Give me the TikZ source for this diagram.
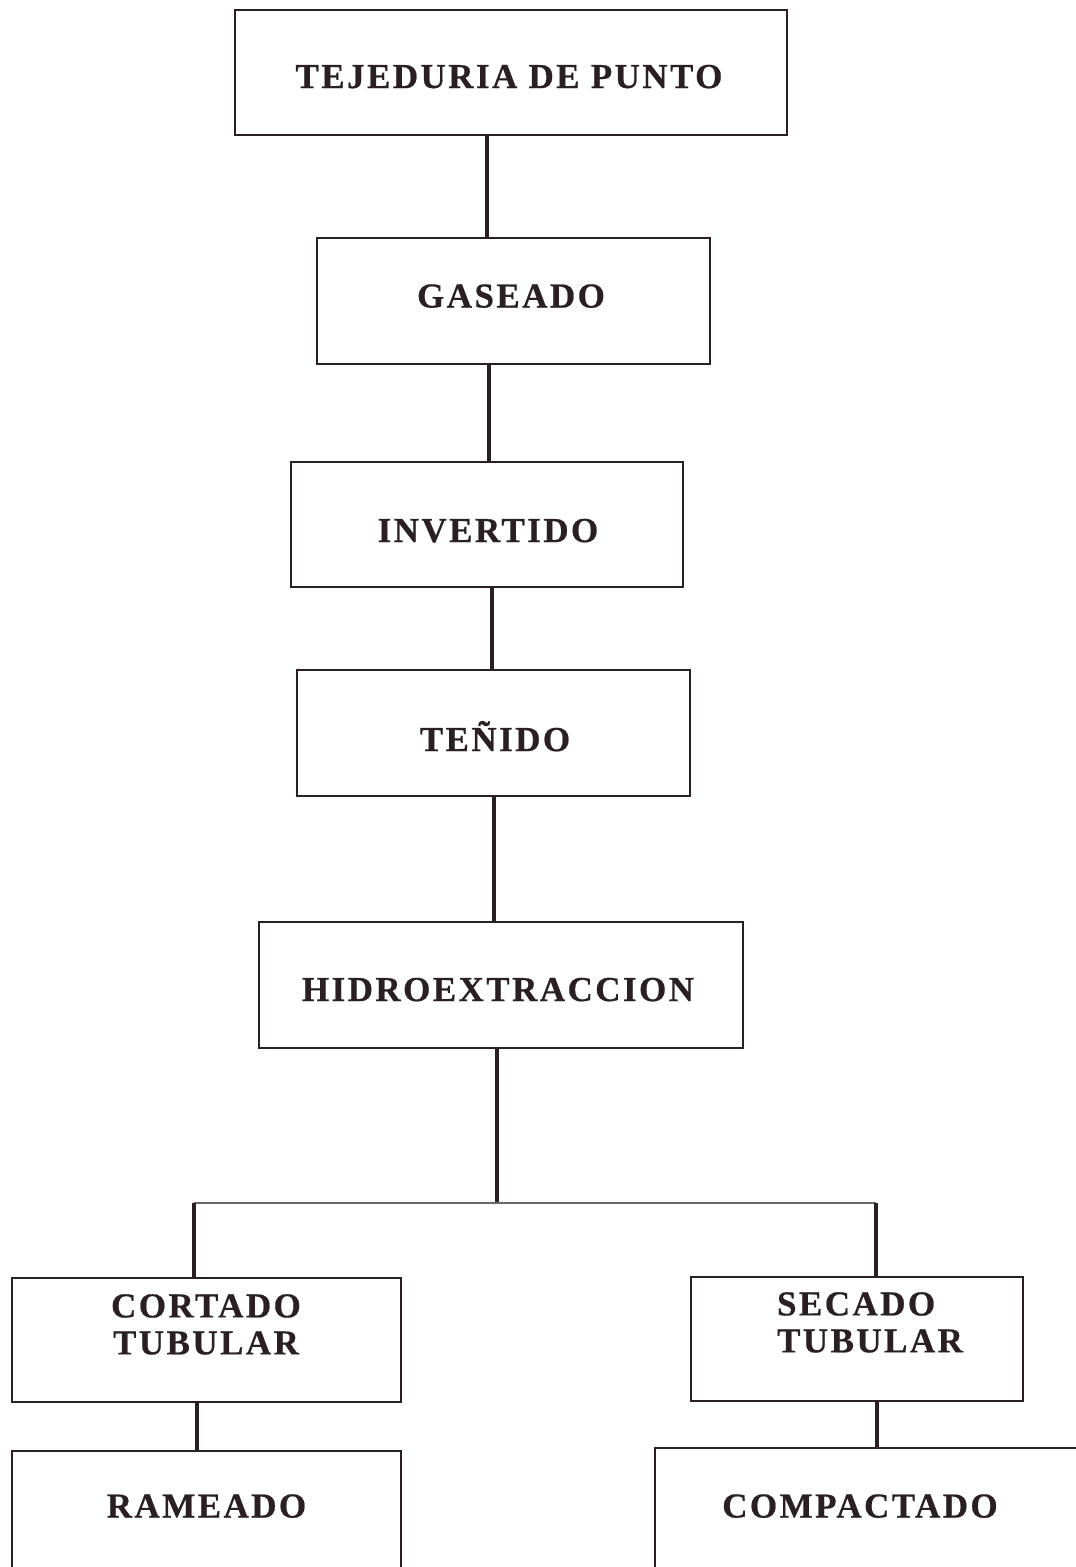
\documentclass[tikz,border=0pt]{standalone}
\usepackage{fontspec}
\setmainfont{Liberation Serif}
\usetikzlibrary{calc}
\definecolor{ink}{HTML}{2A2024}
\definecolor{thin}{HTML}{6E646A}
\begin{document}
\begin{tikzpicture}[x=1pt,y=-1pt,
  box/.style={draw=ink,line width=2.8pt,rectangle,inner sep=0pt},
  lbl/.style={text=ink,inner sep=0pt,text height=23pt,text depth=0pt,
    font=\fontsize{35}{37}\selectfont\addfontfeatures{LetterSpace=7,FakeBold=0.6}\bfseries},
  lbl2/.style={text=ink,inner sep=0pt,
    font=\fontsize{35}{37}\selectfont\addfontfeatures{LetterSpace=7,FakeBold=0.6}\bfseries},
  link/.style={draw=ink,line width=3.1pt}]
\useasboundingbox (0,0) rectangle (1076,1567);
\clip (0,0) rectangle (1076,1567);

% process boxes
\node[box,minimum width=552pt,minimum height=125pt] (b1) at (511,72.5) {};
\node[box,minimum width=393pt,minimum height=126pt] (b2) at (513.5,301) {};
\node[box,minimum width=392pt,minimum height=125pt] (b3) at (487,524.5) {};
\node[box,minimum width=393pt,minimum height=126pt] (b4) at (493.5,733) {};
\node[box,minimum width=484pt,minimum height=126pt] (b5) at (501,985) {};
\node[box,minimum width=389pt,minimum height=124pt] (b6) at (206.5,1340) {};
\node[box,minimum width=332pt,minimum height=124pt] (b7) at (857,1339) {};
\node[box,minimum width=389pt,minimum height=250pt] (b8) at (206.5,1576) {};
\node[box,minimum width=450pt,minimum height=250pt] (b9) at (880,1573) {};

% labels
\node[lbl] (t1) at (509,76.5) {TEJEDURIA DE PUNTO};
\node[lbl] (t2) at (511,296) {GASEADO};
\node[lbl] (t3) at (488,530.5) {INVERTIDO};
\node[lbl] (t4) at (495,739.5) {TEÑIDO};
\node[lbl] (t5) at (498,989.5) {HIDROEXTRACCION};
\node[lbl2,align=center,anchor=north] (t6) at (206,1294) {CORTADO\\TUBULAR};
\node[lbl2,align=left,anchor=north] (t7) at (870,1292) {SECADO\\TUBULAR};
\node[lbl] (t8) at (206.5,1506) {RAMEADO};
\node[lbl] (t9) at (860,1506) {COMPACTADO};

% connectors
\coordinate (j) at (497,1203);
\draw[link] (b1.south -| 487,0) -- (b2.north -| 487,0);
\draw[link] (b2.south -| 489,0) -- (b3.north -| 489,0);
\draw[link] (b3.south -| 492,0) -- (b4.north -| 492,0);
\draw[link] (b4.south -| 494,0) -- (b5.north -| 494,0);
\draw[link] (b5.south -| j) -- (j);
\coordinate (jl) at (194,1203);
\coordinate (jr) at (876,1203);
\draw[draw=thin,line width=2pt] (jl) -- (jr);
\draw[link] (jl) -- (b6.north -| jl);
\draw[link] (jr) -- (b7.north -| jr);
\draw[link] (b6.south -| 197,0) -- (b8.north -| 197,0);
\draw[link] (b7.south -| 877,0) -- (b9.north -| 877,0);
\end{tikzpicture}
\end{document}
